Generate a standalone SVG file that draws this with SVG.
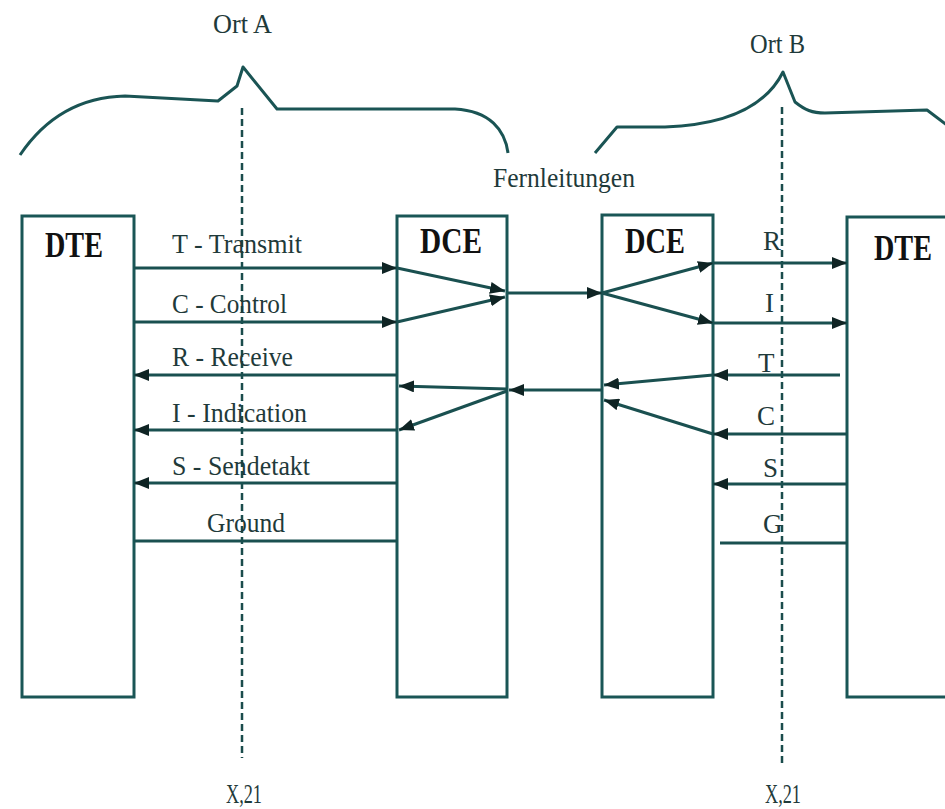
<svg xmlns="http://www.w3.org/2000/svg" width="945" height="809" viewBox="0 0 945 809">
<style>
.box{fill:#fff;stroke:#1a5656;stroke-width:3}
.ln{fill:none;stroke:#1a5050;stroke-width:3}
.br{fill:none;stroke:#1a5454;stroke-width:3;stroke-linejoin:round}
.dash{fill:none;stroke:#1a4c4c;stroke-width:2.5;stroke-dasharray:7 4}
.lbl{font-family:"Liberation Serif",serif;font-size:27px;fill:#1f3a3a}
.ttl{font-family:"Liberation Serif",serif;font-size:36px;font-weight:bold;fill:#111}
</style>
<defs>
<marker id="ah" viewBox="0 0 15 12" refX="15" refY="6" markerWidth="15" markerHeight="12" orient="auto" markerUnits="userSpaceOnUse"><path d="M0,0 L15,6 L0,12 z" fill="#0f2424"/></marker>
</defs>
<rect width="945" height="809" fill="#fff"/>
<g id="braces">
<path class="br" d="M20,155 C45,118 80,97 125,96 L218,101 L237,86 L243,67 L277,109 L455,109 C490,111 505,130 508,153"/>
<path class="br" d="M595,153 L617,127 L665,127 C725,125 765,108 783,72 L795,102 C805,110 812,113 825,113 L927,110 L948,126"/>
<text class="lbl" x="213" y="33" textLength="59" lengthAdjust="spacingAndGlyphs">Ort A</text>
<text class="lbl" x="750" y="53" textLength="55" lengthAdjust="spacingAndGlyphs">Ort B</text>
<text class="lbl" x="493" y="187" textLength="142" lengthAdjust="spacingAndGlyphs">Fernleitungen</text>
</g>
<g id="dte-left">
<rect class="box" x="22" y="216" width="112" height="481"/>
<text class="ttl" x="45" y="257" textLength="58" lengthAdjust="spacingAndGlyphs">DTE</text>
</g>
<g id="dce-left">
<rect class="box" x="397" y="216" width="110" height="481"/>
<text class="ttl" x="420" y="253" textLength="62" lengthAdjust="spacingAndGlyphs">DCE</text>
</g>
<g id="dce-right">
<rect class="box" x="602" y="215" width="111" height="482"/>
<text class="ttl" x="625" y="253" textLength="60" lengthAdjust="spacingAndGlyphs">DCE</text>
</g>
<g id="dte-right">
<path class="box" d="M960,217 H847 V697 H960"/>
<text class="ttl" x="874" y="260" textLength="58" lengthAdjust="spacingAndGlyphs">DTE</text>
</g>
<g id="interfaces">
<line class="dash" x1="242" y1="108" x2="242" y2="758"/>
<line class="dash" x1="782" y1="107" x2="782" y2="764"/>
<text class="lbl" x="226" y="803" font-size="32" textLength="36" lengthAdjust="spacingAndGlyphs">X,21</text>
<text class="lbl" x="765" y="803" font-size="32" textLength="36" lengthAdjust="spacingAndGlyphs">X,21</text>
</g>
<g id="connectors">
<path class="ln" d="M134,268 H397" marker-end="url(#ah)"/>
<path class="ln" d="M134,322 H397" marker-end="url(#ah)"/>
<path class="ln" d="M397,268 L505,291" marker-end="url(#ah)"/>
<path class="ln" d="M397,322 L505,297" marker-end="url(#ah)"/>
<path class="ln" d="M508,293 H602" marker-end="url(#ah)"/>
<path class="ln" d="M397,375 H134" marker-end="url(#ah)"/>
<path class="ln" d="M397,430 H134" marker-end="url(#ah)"/>
<path class="ln" d="M397,483 H134" marker-end="url(#ah)"/>
<path class="ln" d="M134,541 H397"/>
<path class="ln" d="M602,390 H509" marker-end="url(#ah)"/>
<path class="ln" d="M507,389 L399,386" marker-end="url(#ah)"/>
<path class="ln" d="M507,391 L399,430" marker-end="url(#ah)"/>
<path class="ln" d="M602,293 L713,263" marker-end="url(#ah)"/>
<path class="ln" d="M602,293 L713,323" marker-end="url(#ah)"/>
<path class="ln" d="M713,263 H847" marker-end="url(#ah)"/>
<path class="ln" d="M713,323 H847" marker-end="url(#ah)"/>
<path class="ln" d="M840,375 H713" marker-end="url(#ah)"/>
<path class="ln" d="M847,434 H713" marker-end="url(#ah)"/>
<path class="ln" d="M847,484 H713" marker-end="url(#ah)"/>
<path class="ln" d="M720,543 H847"/>
<path class="ln" d="M713,375 L604,385" marker-end="url(#ah)"/>
<path class="ln" d="M713,434 L604,400" marker-end="url(#ah)"/>
</g>
<g id="labels">
<text class="lbl" x="172" y="253" textLength="130" lengthAdjust="spacingAndGlyphs">T - Transmit</text>
<text class="lbl" x="172" y="313" textLength="115" lengthAdjust="spacingAndGlyphs">C - Control</text>
<text class="lbl" x="172" y="366" textLength="121" lengthAdjust="spacingAndGlyphs">R - Receive</text>
<text class="lbl" x="172" y="422" textLength="135" lengthAdjust="spacingAndGlyphs">I - Indication</text>
<text class="lbl" x="172" y="475" textLength="138" lengthAdjust="spacingAndGlyphs">S - Sendetakt</text>
<text class="lbl" x="207" y="532" textLength="78" lengthAdjust="spacingAndGlyphs">Ground</text>
<text class="lbl" x="763" y="250">R</text>
<text class="lbl" x="765" y="312">I</text>
<text class="lbl" x="758" y="372">T</text>
<text class="lbl" x="757" y="425">C</text>
<text class="lbl" x="763" y="477">S</text>
<text class="lbl" x="763" y="533">G</text>
</g>
</svg>
